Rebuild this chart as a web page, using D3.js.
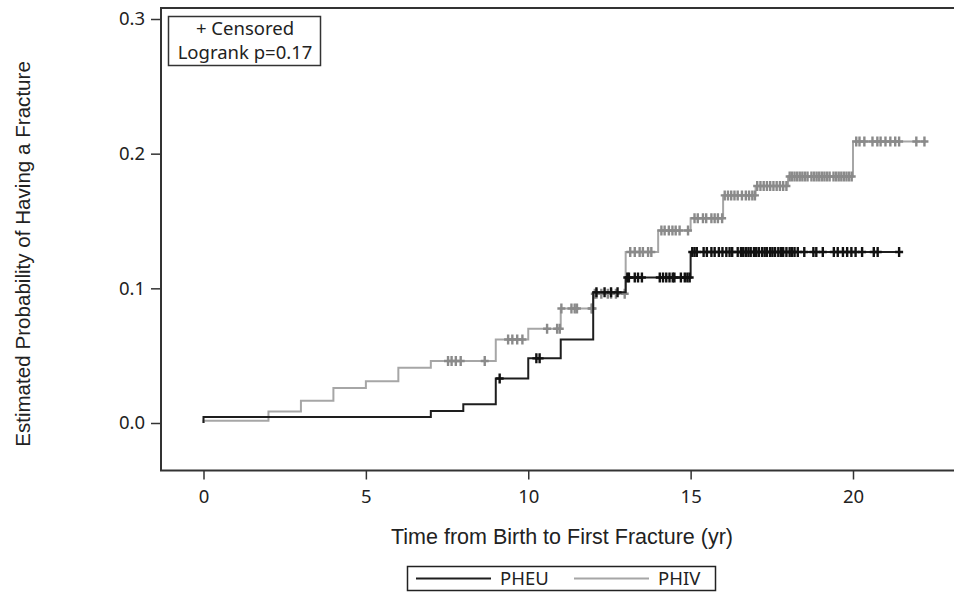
<!DOCTYPE html>
<html>
<head>
<meta charset="utf-8">
<script src="https://cdn.jsdelivr.net/npm/d3@7"></script>
<style>
  body { margin: 0; background: #fff; }
  .tick text { font-family: "Noto Sans", sans-serif; font-size: 18.5px; fill: #222; }
  .axis path, .axis line { stroke: #333; stroke-width: 1.5; }
  .title { font-family: "Liberation Sans", Arial, sans-serif; fill: #222; }
  .inset, .legend text { font-family: "Noto Sans", sans-serif; font-size: 18.5px; fill: #222; }
</style>
</head>
<body>
<div class="chart"></div>
<script>
// === Data ===
const pheuTimes = [0, 7, 8, 9, 10, 11, 12, 13, 15];
const pheuProb  = [0.0045, 0.009, 0.014, 0.033, 0.048, 0.062, 0.097, 0.108, 0.127];
const pheuEnd = 21.45;
const pheuCensored = [9.12, 10.25, 10.35, 12.1, 12.35, 12.55, 12.75, 13.05, 13.1, 13.28, 13.38, 13.5,
  14.05, 14.15, 14.25, 14.35, 14.45, 14.5, 14.7, 14.82, 14.9, 14.97, 15.05, 15.12, 15.19, 15.4, 15.5,
  15.64, 15.74, 15.87, 15.98, 16.1, 16.2, 16.28, 16.45, 16.55, 16.62, 16.7, 16.78, 16.85, 16.95, 17.02,
  17.1, 17.2, 17.28, 17.35, 17.45, 17.52, 17.6, 17.7, 17.78, 17.85, 17.95, 18.05, 18.12, 18.2, 18.3,
  18.5, 18.78, 18.87, 19.07, 19.41, 19.53, 19.69, 19.82, 19.95, 20.08, 20.28, 20.64, 20.76, 21.42];

const phivTimes = [0, 2, 3, 4, 5, 6, 7, 9, 10, 11, 12, 13, 14, 15, 16, 17, 18, 20];
const phivProb  = [0.0017, 0.0085, 0.0165, 0.026, 0.031, 0.041, 0.046, 0.062, 0.070, 0.085, 0.096,
  0.127, 0.143, 0.152, 0.169, 0.176, 0.183, 0.209];
const phivEnd = 22.25;
const phivCensored = [7.53, 7.64, 7.77, 7.92, 8.66, 9.38, 9.51, 9.66, 9.82, 10.58, 10.89, 10.97, 11.02,
  11.33, 11.43, 11.5, 11.95, 11.98, 12.05, 12.1, 12.25, 12.45, 12.55, 12.7, 12.97, 13.14, 13.28, 13.43,
  13.53, 13.69, 13.79, 14.1, 14.2, 14.33, 14.44, 14.54, 14.66, 14.92, 15.12, 15.22, 15.38, 15.48, 15.64,
  15.74, 15.84, 15.97, 16.05, 16.15, 16.25, 16.35, 16.45, 16.58, 16.7, 16.8, 16.9, 16.98, 17.05, 17.15,
  17.25, 17.35, 17.45, 17.55, 17.65, 17.75, 17.85, 17.95, 18.05, 18.12, 18.2, 18.28, 18.36, 18.44, 18.52,
  18.6, 18.72, 18.8, 18.88, 18.96, 19.04, 19.12, 19.2, 19.28, 19.4, 19.48, 19.56, 19.64, 19.72, 19.8,
  19.88, 19.96, 20.1, 20.2, 20.35, 20.6, 20.75, 20.85, 21.0, 21.15, 21.3, 21.42, 21.95, 22.2];

const xTicks = [0, 5, 10, 15, 20];
const yTicks = [0, 0.1, 0.2, 0.3];
const groups = ["PHEU", "PHIV"];

// === SVG ===
const W = 954, H = 593;
const svg = d3.select(".chart").append("svg")
    .attr("width", W)
    .attr("height", H);

// frame of the plot area (right side runs off the picture)
const frame = {left: 161, top: 8, right: 958, bottom: 470.5};

// === Scales ===
const xScale = d3.scaleLinear().domain([0, 20]).range([203.5, 853]);
const yScale = d3.scaleLinear().domain([0, 0.3]).range([423, 19]);

// === Axes ===
svg.append("g")
    .attr("class", "axis x-axis")
    .attr("transform", `translate(0, ${frame.bottom})`)
    .call(d3.axisBottom(xScale).tickValues(xTicks).tickSize(9).tickPadding(10).tickFormat(d3.format("d")))
    .call(g => g.select(".domain").remove());

svg.append("g")
    .attr("class", "axis y-axis")
    .attr("transform", `translate(${frame.left}, 0)`)
    .call(d3.axisLeft(yScale).tickValues(yTicks).tickSize(10).tickPadding(6).tickFormat(d3.format(".1f")))
    .call(g => g.select(".domain").remove());

svg.append("rect")
    .attr("x", frame.left)
    .attr("y", frame.top)
    .attr("width", frame.right - frame.left)
    .attr("height", frame.bottom - frame.top)
    .attr("fill", "none")
    .attr("stroke", "#333")
    .attr("stroke-width", 2);

// === Axis titles ===
svg.append("text")
    .attr("class", "title")
    .attr("font-size", 20.6)
    .attr("text-anchor", "middle")
    .attr("transform", "translate(30, 254) rotate(-90)")
    .text("Estimated Probability of Having a Fracture");

svg.append("text")
    .attr("class", "title")
    .attr("font-size", 21.5)
    .attr("text-anchor", "middle")
    .attr("x", 562)
    .attr("y", 544)
    .text("Time from Birth to First Fracture (yr)");

// === Curves ===
function stepData(times, probs, end) {
  const pts = [{t: 0, p: 0}];
  times.forEach((t, i) => pts.push({t: t, p: probs[i]}));
  pts.push({t: end, p: probs[probs.length - 1]});
  return pts;
}
function probAt(times, probs, t) {
  const i = d3.bisectRight(times, t) - 1;
  return probs[Math.max(0, i)];
}

const line = d3.line()
    .x(d => xScale(d.t))
    .y(d => yScale(d.p))
    .curve(d3.curveStepAfter);

const series = [
  {name: "PHIV", times: phivTimes, probs: phivProb, end: phivEnd, cens: phivCensored, color: "#a6a6a6", mark: "#8a8a8a"},
  {name: "PHEU", times: pheuTimes, probs: pheuProb, end: pheuEnd, cens: pheuCensored, color: "#1e1e1e", mark: "#111"}
];

series.forEach(s => {
  svg.append("path")
      .datum(stepData(s.times, s.probs, s.end))
      .attr("fill", "none")
      .attr("stroke", s.color)
      .attr("stroke-width", 2)
      .attr("d", line);

  svg.append("g")
      .selectAll("path")
      .data(s.cens)
      .join("path")
      .attr("transform", d => `translate(${xScale(d)}, ${yScale(probAt(s.times, s.probs, d))})`)
      .attr("d", "M0,-5V5M-4,0H4")
      .attr("stroke", s.mark)
      .attr("stroke-width", 2.4)
      .attr("fill", "none");
});

// === Inset box ===
svg.append("rect")
    .attr("x", 168.5).attr("y", 16.5)
    .attr("width", 152).attr("height", 49)
    .attr("fill", "#fff")
    .attr("stroke", "#333")
    .attr("stroke-width", 1.5);
svg.append("text").attr("class", "inset").attr("text-anchor", "middle")
    .attr("x", 245).attr("y", 35).text("+ Censored");
svg.append("text").attr("class", "inset").attr("text-anchor", "middle")
    .attr("x", 245).attr("y", 59).text("Logrank p=0.17");

// === Legend ===
const legend = svg.append("g").attr("class", "legend");
legend.append("rect")
    .attr("x", 407.5).attr("y", 566.5)
    .attr("width", 308).attr("height", 24)
    .attr("fill", "#fff")
    .attr("stroke", "#222")
    .attr("stroke-width", 1.5);

const legendX = d3.scaleOrdinal().domain(groups).range([416, 574]);
const legendColor = d3.scaleOrdinal().domain(groups).range(["#1e1e1e", "#a6a6a6"]);

groups.forEach(g => {
  legend.append("line")
      .attr("x1", legendX(g)).attr("x2", legendX(g) + 75)
      .attr("y1", 578.5).attr("y2", 578.5)
      .attr("stroke", legendColor(g))
      .attr("stroke-width", 2);
  legend.append("text")
      .attr("x", legendX(g) + 84)
      .attr("y", 585)
      .text(g);
});
</script>
</body>
</html>
